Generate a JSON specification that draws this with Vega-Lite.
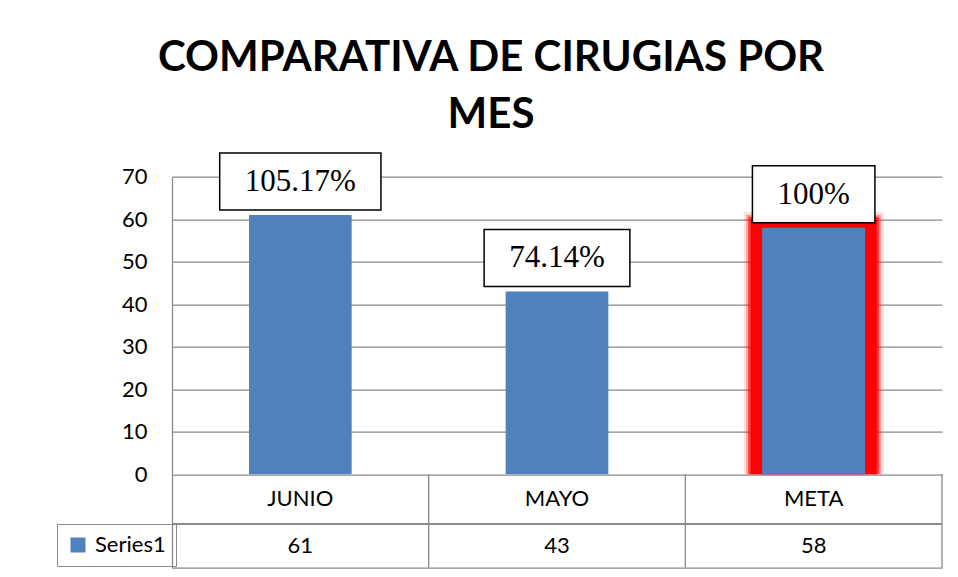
{
  "$schema": "https://vega.github.io/schema/vega-lite/v6.json",
  "width": 770,
  "height": 391,
  "autosize": {"type": "none"},
  "padding": {"left": 172, "top": 176.7, "right": 16, "bottom": 9.3},
  "background": "white",
  "title": {
    "text": ["COMPARATIVA DE CIRUGIAS POR", "MES"],
    "font": "Lato",
    "fontSize": 42,
    "fontWeight": "bold",
    "color": "black",
    "lineHeight": 57,
    "anchor": "middle",
    "dx": -66,
    "offset": 15
  },
  "config": {"view": {"stroke": null}, "font": "Lato"},
  "data": {
    "values": [
      {"mes": "JUNIO", "cirugias": 61, "label": "105.17%", "serie": "Series1"},
      {"mes": "MAYO", "cirugias": 43, "label": "74.14%", "serie": "Series1"},
      {"mes": "META", "cirugias": 58, "label": "100%", "serie": "Series1"}
    ]
  },
  "layer": [
    {
      "mark": {"type": "bar", "color": "#4F81BD"},
      "encoding": {
        "x": {
          "field": "mes", "type": "nominal", "sort": null,
          "scale": {"paddingInner": 0.6, "paddingOuter": 0.3},
          "axis": {"labels": false, "ticks": false, "title": null, "domainColor": "#898989", "domainWidth": 1.3, "grid": false}
        },
        "y": {
          "field": "cirugias", "type": "quantitative",
          "scale": {"domain": [-21.97, 70], "nice": false, "zero": false},
          "axis": {
            "values": [0, 10, 20, 30, 40, 50, 60, 70], "title": null, "grid": true,
            "gridColor": "#898989", "gridWidth": 1.3, "ticks": false, "labelFontSize": 22,
            "labelFont": "Lato", "labelPadding": 25, "labelColor": "black",
            "domainColor": "#898989", "domainWidth": 1.3
          }
        },
        "y2": {"datum": 0},
        "color": {
          "field": "serie", "type": "nominal",
          "scale": {"range": ["#4F81BD"]},
          "legend": {
            "orient": "none", "legendX": -115, "legendY": 347.3, "title": null,
            "symbolType": "square", "symbolSize": 225, "symbolStrokeWidth": 0,
            "labelFontSize": 22, "labelFont": "Lato", "labelColor": "black",
            "strokeColor": "#898989", "padding": 10, "labelOffset": 6
          }
        }
      }
    },
    {
      "transform": [{"filter": "datum.mes == 'META'"}],
      "layer": [
        {"mark": {"type": "bar", "color": "#FF0000", "opacity": 0.12, "width": 140, "yOffset": -16}},
        {"mark": {"type": "bar", "color": "#FF0000", "opacity": 0.3, "width": 135, "yOffset": -13}},
        {"mark": {"type": "bar", "color": "#FF0000", "opacity": 0.6, "width": 131, "yOffset": -11}},
        {"mark": {"type": "bar", "color": "#FF0000", "opacity": 1, "width": 126, "yOffset": -9}},
        {"mark": {"type": "bar", "color": "#4F81BD", "width": 103}}
      ],
      "encoding": {
        "x": {"field": "mes", "type": "nominal", "sort": null},
        "y": {"field": "cirugias", "type": "quantitative"},
        "y2": {"datum": 0}
      }
    },
    {
      "mark": {
        "type": "bar", "fill": "white", "stroke": "black", "strokeWidth": 1.5,
        "width": {"expr": "15.5*(length(datum.label)-1) - (indexof(datum.label,'.')>=0 ? 7.75 : 0) + 76"},
        "yOffset": -62, "y2Offset": -5
      },
      "encoding": {
        "x": {"field": "mes", "type": "nominal", "sort": null},
        "y": {"field": "cirugias", "type": "quantitative"},
        "y2": {"field": "cirugias"}
      }
    },
    {
      "mark": {"type": "text", "font": "Liberation Serif", "fontSize": 31, "baseline": "middle", "color": "black", "yOffset": -33},
      "encoding": {
        "x": {"field": "mes", "type": "nominal", "sort": null},
        "y": {"field": "cirugias", "type": "quantitative"},
        "text": {"field": "label"}
      }
    },
    {
      "mark": {"type": "text", "font": "Lato", "fontSize": 22, "baseline": "middle", "color": "black"},
      "encoding": {
        "x": {"field": "mes", "type": "nominal", "sort": null},
        "y": {"datum": -5.86},
        "text": {"field": "mes"}
      }
    },
    {
      "mark": {"type": "text", "font": "Lato", "fontSize": 22, "baseline": "middle", "color": "black"},
      "encoding": {
        "x": {"field": "mes", "type": "nominal", "sort": null},
        "y": {"datum": -16.8},
        "text": {"field": "cirugias"}
      }
    },
    {
      "mark": {"type": "rule", "color": "#898989", "strokeWidth": 1.3},
      "encoding": {"y": {"datum": -11.69}}
    },
    {
      "mark": {"type": "rule", "color": "#898989", "strokeWidth": 1.3},
      "encoding": {
        "x": {"field": "mes", "type": "nominal", "sort": null, "bandPosition": 1.75},
        "y": {"datum": 0},
        "y2": {"datum": -21.97}
      }
    }
  ]
}
